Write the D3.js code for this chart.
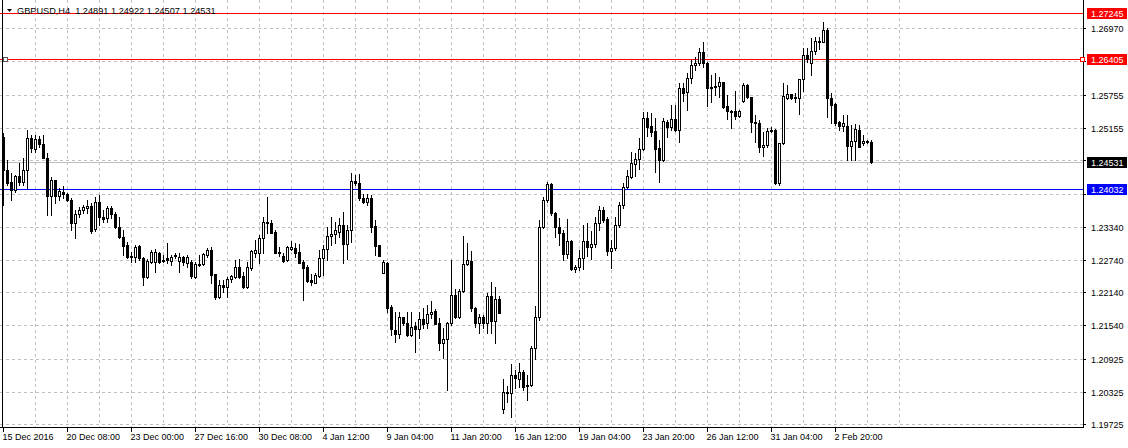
<!DOCTYPE html>
<html><head><meta charset="utf-8">
<script src="https://cdn.jsdelivr.net/npm/d3@7"></script>
<style>html,body{margin:0;padding:0;background:#fff;}svg{display:block;}</style>
</head><body>
<script>
const symbolTitle = "GBPUSD,H4  1.24891 1.24922 1.24507 1.24531";
const open = [
1.24981,1.24377,1.24157,1.24011,1.24267,1.24157,1.24377,1.24963,1.24761,1.24944,
1.24853,1.24597,1.23902,1.24194,1.23902,1.23975,1.23938,1.23828,1.23407,1.23572,
1.23645,1.23682,1.23718,1.23297,1.23792,1.23517,1.23499,1.23682,1.23572,1.23334,
1.23151,1.23004,1.22803,1.22785,1.22986,1.22766,1.22419,1.22693,1.22693,1.22858,
1.22730,1.22766,1.22711,1.22821,1.22711,1.22785,1.22675,1.22693,1.22419,1.22656,
1.22656,1.22821,1.22913,1.22474,1.22053,1.22272,1.22236,1.22382,1.22419,1.22601,
1.22437,1.22236,1.22583,1.22858,1.22858,1.23133,1.23425,1.23407,1.23242,1.22876,
1.22803,1.22730,1.22931,1.22950,1.22876,1.22693,1.22601,1.22364,1.22309,1.22437,
1.22766,1.22931,1.23169,1.23206,1.23242,1.23371,1.23023,1.23279,1.24176,1.24139,
1.23865,1.23792,1.23865,1.23352,1.23004,1.22492,1.22675,1.21870,1.21449,1.21376,
1.21687,1.21577,1.21357,1.21522,1.21467,1.21650,1.21577,1.21742,1.21797,1.21577,
1.21211,1.21284,1.21577,1.22090,1.21687,1.22163,1.22656,1.22711,1.21852,1.21577,
1.21687,1.21577,1.22071,1.21613,1.22016,1.20001,1.20314,1.20296,1.20626,1.20552,
1.20680,1.20443,1.20443,1.21120,1.21687,1.23334,1.23828,1.24121,1.23590,1.23334,
1.23224,1.22840,1.23078,1.22565,1.22601,1.22766,1.23078,1.22968,1.23023,1.23407,
1.23645,1.23480,1.22895,1.22950,1.23371,1.23737,1.24067,1.24249,1.24487,1.24578,
1.24761,1.25329,1.25182,1.25091,1.24780,1.24560,1.25255,1.25164,1.25310,1.25109,
1.25878,1.25804,1.26061,1.26298,1.26335,1.26536,1.26335,1.25878,1.25914,1.25914,
1.25987,1.25548,1.25457,1.25457,1.25365,1.25640,1.25933,1.25713,1.25255,1.25237,
1.24798,1.24835,1.25109,1.25109,1.24139,1.24871,1.25695,1.25768,1.25713,1.25695,
1.26042,1.26482,1.26335,1.26555,1.26738,1.26719,1.26939,1.25695,1.25585,1.25255,
1.25182,1.25182,1.24816,1.24908,1.25109,1.24871,1.24908,1.24891];
const high = [
1.25054,1.24560,1.24322,1.24286,1.24505,1.24597,1.25109,1.25018,1.25018,1.24999,
1.25018,1.24688,1.24249,1.24194,1.24048,1.24085,1.23956,1.23865,1.23645,1.23700,
1.23737,1.23828,1.23773,1.23883,1.23920,1.23645,1.23718,1.23718,1.23608,1.23517,
1.23279,1.23059,1.22876,1.23004,1.23004,1.22785,1.22748,1.22913,1.22931,1.22876,
1.22821,1.23041,1.22821,1.22858,1.22858,1.22803,1.22821,1.22730,1.22693,1.22821,
1.22858,1.22950,1.22968,1.22474,1.22364,1.22364,1.22419,1.22455,1.22730,1.22748,
1.22510,1.22693,1.22913,1.23096,1.23188,1.23517,1.23883,1.23462,1.23279,1.22968,
1.22858,1.22986,1.23078,1.23041,1.23023,1.22730,1.22638,1.22474,1.22492,1.22913,
1.23004,1.23334,1.23517,1.23425,1.23499,1.23608,1.23371,1.24322,1.24286,1.24304,
1.23938,1.23938,1.23920,1.23462,1.23004,1.22730,1.22693,1.21907,1.21778,1.21778,
1.21687,1.21778,1.21778,1.21595,1.21778,1.21852,1.21907,1.21980,1.21833,1.21668,
1.21485,1.21595,1.22730,1.22199,1.22199,1.23169,1.23041,1.22895,1.21870,1.21742,
1.21723,1.22126,1.22327,1.22236,1.22071,1.20552,1.20424,1.20826,1.20717,1.20845,
1.20717,1.20626,1.21156,1.21888,1.23462,1.23883,1.24157,1.24139,1.23608,1.23499,
1.23279,1.23480,1.23096,1.22638,1.22913,1.23371,1.23407,1.23261,1.23517,1.23718,
1.23700,1.23517,1.23096,1.23517,1.23792,1.24139,1.24377,1.24706,1.24688,1.24963,
1.25438,1.25438,1.25420,1.25329,1.24926,1.25329,1.25292,1.25566,1.25566,1.25969,
1.25969,1.26152,1.26390,1.26445,1.26610,1.26719,1.26353,1.26116,1.26152,1.26079,
1.25987,1.25750,1.25475,1.25823,1.25475,1.25969,1.25951,1.25713,1.25383,1.25292,
1.25072,1.25146,1.25164,1.25127,1.24871,1.25969,1.25933,1.25768,1.25786,1.26042,
1.26610,1.26610,1.26793,1.26811,1.26811,1.27085,1.26976,1.25786,1.25603,1.25274,
1.25383,1.25383,1.25201,1.25219,1.25201,1.25018,1.24926,1.24922];
const low = [
1.23737,1.24103,1.23828,1.23975,1.24103,1.24103,1.24048,1.24706,1.24706,1.24798,
1.24597,1.23553,1.23553,1.23773,1.23828,1.23865,1.23810,1.23279,1.23133,1.23517,
1.23590,1.23590,1.23224,1.23261,1.23371,1.23425,1.23425,1.23499,1.23316,1.23133,
1.22821,1.22766,1.22693,1.22693,1.22730,1.22272,1.22400,1.22675,1.22510,1.22675,
1.22693,1.22675,1.22638,1.22766,1.22510,1.22638,1.22601,1.22400,1.22400,1.22620,
1.22638,1.22785,1.22309,1.22016,1.22035,1.22144,1.22053,1.22327,1.22400,1.22400,
1.22217,1.22217,1.22547,1.22785,1.22675,1.22858,1.23224,1.23224,1.22858,1.22803,
1.22693,1.22711,1.22913,1.22785,1.22675,1.21998,1.22327,1.22272,1.22309,1.22419,
1.22455,1.22730,1.23004,1.23041,1.23151,1.22675,1.22748,1.23059,1.24103,1.23828,
1.23773,1.23737,1.23242,1.22821,1.22803,1.22492,1.21778,1.21357,1.21229,1.21302,
1.21540,1.21339,1.21339,1.21046,1.21302,1.21485,1.21485,1.21668,1.21558,1.21083,
1.20937,1.20351,1.21540,1.21668,1.21668,1.22144,1.22638,1.21797,1.21503,1.21394,
1.21485,1.21394,1.21394,1.21211,1.21760,1.19929,1.20132,1.19857,1.20387,1.20406,
1.20351,1.20168,1.20424,1.20918,1.21632,1.23316,1.23792,1.23553,1.23151,1.23004,
1.22730,1.22766,1.22547,1.22510,1.22547,1.22565,1.22803,1.22748,1.22968,1.23279,
1.23425,1.22821,1.22583,1.22913,1.23334,1.23682,1.24048,1.24231,1.24267,1.24395,
1.24743,1.24999,1.24999,1.24340,1.24157,1.24542,1.24981,1.25109,1.25091,1.24890,
1.25640,1.25475,1.25969,1.26207,1.26298,1.26262,1.25548,1.25621,1.25750,1.25713,
1.25512,1.25310,1.25146,1.25310,1.25347,1.25621,1.25695,1.25072,1.24890,1.24706,
1.24633,1.24798,1.25072,1.24121,1.24103,1.24853,1.25676,1.25676,1.25621,1.25402,
1.25823,1.26353,1.26116,1.26500,1.26591,1.26719,1.25347,1.25237,1.25201,1.25109,
1.25091,1.24560,1.24560,1.24560,1.24798,1.24835,1.24871,1.24507];
const close = [
1.24377,1.24139,1.24011,1.24267,1.24157,1.24377,1.24963,1.24780,1.24944,1.24853,
1.24597,1.23902,1.24194,1.23902,1.23993,1.23938,1.23828,1.23407,1.23572,1.23645,
1.23700,1.23718,1.23261,1.23792,1.23517,1.23480,1.23682,1.23572,1.23334,1.23151,
1.22986,1.22785,1.22785,1.22968,1.22766,1.22419,1.22711,1.22876,1.22876,1.22693,
1.22711,1.22730,1.22785,1.22803,1.22785,1.22693,1.22785,1.22437,1.22656,1.22638,
1.22840,1.22913,1.22455,1.22053,1.22272,1.22236,1.22382,1.22437,1.22601,1.22419,
1.22236,1.22601,1.22895,1.22913,1.23133,1.23425,1.23407,1.23224,1.22858,1.22858,
1.22711,1.22968,1.22968,1.22858,1.22675,1.22583,1.22345,1.22327,1.22455,1.22766,
1.22931,1.23169,1.23206,1.23279,1.23371,1.23023,1.23279,1.24176,1.24139,1.23865,
1.23792,1.23865,1.23334,1.22986,1.22803,1.22693,1.21852,1.21467,1.21376,1.21687,
1.21577,1.21357,1.21503,1.21467,1.21650,1.21558,1.21742,1.21778,1.21558,1.21211,
1.21284,1.21577,1.22090,1.21687,1.22163,1.22656,1.22730,1.21852,1.21577,1.21687,
1.21577,1.22071,1.21613,1.22016,1.21760,1.20314,1.20296,1.20626,1.20571,1.20680,
1.20406,1.20424,1.21120,1.21687,1.23334,1.23828,1.24121,1.23590,1.23334,1.23224,
1.22840,1.23078,1.22565,1.22601,1.22766,1.23078,1.22968,1.23023,1.23407,1.23645,
1.23462,1.22895,1.22950,1.23371,1.23737,1.24067,1.24267,1.24505,1.24578,1.24761,
1.25329,1.25164,1.25072,1.24761,1.24560,1.25274,1.25164,1.25310,1.25109,1.25878,
1.25786,1.26061,1.26298,1.26335,1.26536,1.26335,1.25878,1.25896,1.25896,1.25987,
1.25530,1.25457,1.25438,1.25365,1.25457,1.25933,1.25713,1.25255,1.25237,1.24798,
1.24835,1.25091,1.25091,1.24139,1.24871,1.25731,1.25768,1.25695,1.25695,1.26042,
1.26482,1.26408,1.26555,1.26738,1.26719,1.26939,1.25695,1.25566,1.25237,1.25182,
1.25237,1.24816,1.24908,1.25127,1.24798,1.24908,1.24890,1.24531];

const timeTickBars = [0,16,32,48,64,80,96,112,128,144,160,176,192,208];
const timeTickLabels = ["15 Dec 2016","20 Dec 08:00","23 Dec 00:00","27 Dec 16:00","30 Dec 08:00","4 Jan 12:00","9 Jan 04:00","11 Jan 20:00","16 Jan 12:00","19 Jan 04:00","23 Jan 20:00","26 Jan 12:00","31 Jan 04:00","2 Feb 20:00"];
const priceTicks = [1.26970,1.26365,1.25755,1.25155,1.24555,1.23945,1.23340,1.22740,1.22140,1.21540,1.20925,1.20325,1.19725];
const resistanceLevels = [1.27245, 1.26405];
const supportLevels = [1.24032];
const lastPrice = 1.24531;

const W = 1128, H = 448;
const plotL = 0, plotR = 1083, plotB = 427;
const N = open.length;
const FONT = "'Liberation Sans', Arial, sans-serif";

const svg = d3.select("body").append("svg").attr("width", W).attr("height", H)
  .attr("shape-rendering", "crispEdges");

const x = d3.scaleBand().domain(d3.range(N)).range([1, 1 + 4 * N]).padding(0);
const cx = i => Math.round(x(i) + x.bandwidth() / 2);
const y = d3.scaleLinear().domain([1.19725, 1.26970]).range([424.3, 28.3]);
const py = v => Math.round(y(v));

const levelValues = [...resistanceLevels, lastPrice, ...supportLevels];
const covered = d => levelValues.some(v => Math.abs(py(v) - py(d)) < 9);

// grid
const grid = svg.append("g").attr("stroke", "#c0c0c0").attr("stroke-dasharray", "3,3");
const vGrid = d3.range(8, N + 8, 8).filter(i => 3 + 4 * i < plotR);
grid.selectAll("line.v").data(vGrid).join("line")
  .attr("x1", i => 3 + 4 * i + 0.5).attr("x2", i => 3 + 4 * i + 0.5)
  .attr("y1", 0).attr("y2", plotB);
grid.selectAll("line.h").data(priceTicks).join("line")
  .attr("x1", plotL).attr("x2", plotR)
  .attr("y1", d => py(d) + 0.5).attr("y2", d => py(d) + 0.5);

// last price line
svg.append("line").attr("x1", plotL).attr("x2", plotR)
  .attr("y1", py(lastPrice) + 0.5).attr("y2", py(lastPrice) + 0.5)
  .attr("stroke", "#c0c0c0");

// horizontal level lines
svg.selectAll("line.res").data(resistanceLevels).join("line")
  .attr("x1", plotL).attr("x2", plotR)
  .attr("y1", d => py(d) + 0.5).attr("y2", d => py(d) + 0.5)
  .attr("stroke", "#ff0000");
svg.selectAll("line.sup").data(supportLevels).join("line")
  .attr("x1", plotL).attr("x2", plotR)
  .attr("y1", d => py(d) + 0.5).attr("y2", d => py(d) + 0.5)
  .attr("stroke", "#0000ff");

// candles
const bars = d3.range(N).map(i => ({i, o: open[i], h: high[i], l: low[i], c: close[i]}));
const cg = svg.append("g");
cg.selectAll("line.wick").data(bars).join("line")
  .attr("x1", d => cx(d.i) + 0.5).attr("x2", d => cx(d.i) + 0.5)
  .attr("y1", d => py(d.h)).attr("y2", d => py(d.l) + 1)
  .attr("stroke", "#000");
cg.selectAll("rect.body").data(bars).join("rect")
  .attr("x", d => d.c >= d.o ? cx(d.i) - 0.5 : cx(d.i) - 1)
  .attr("width", d => d.c >= d.o ? 2 : 3)
  .attr("y", d => d.c >= d.o ? py(d.c) + 0.5 : py(d.o))
  .attr("height", d => {
    const hgt = Math.abs(py(d.o) - py(d.c));
    return d.c >= d.o ? Math.max(hgt, 0) : Math.max(hgt + 1, 1);
  })
  .attr("fill", d => d.c >= d.o ? "#fff" : "#000")
  .attr("stroke", d => d.c >= d.o ? "#000" : "none");

// frame
svg.append("line").attr("x1", plotR + 0.5).attr("x2", plotR + 0.5).attr("y1", 0).attr("y2", plotB + 1).attr("stroke", "#000");
svg.append("line").attr("x1", 0).attr("x2", plotR + 1).attr("y1", plotB + 0.5).attr("y2", plotB + 0.5).attr("stroke", "#000");
svg.append("line").attr("x1", 2.5).attr("x2", 2.5).attr("y1", 0).attr("y2", plotB).attr("stroke", "#000");

// right price axis
const axisG = svg.append("g").attr("transform", `translate(${plotR},0)`);
const yAxis = d3.axisRight(y).tickValues(priceTicks).tickSize(3).tickPadding(5)
  .tickFormat(d => covered(d) ? "" : d3.format(".5f")(d));
axisG.call(yAxis);
axisG.select(".domain").remove();
axisG.selectAll(".tick").attr("transform", d => `translate(0,${py(d) + 0.5})`);
axisG.selectAll(".tick line").attr("stroke", "#000");
axisG.selectAll(".tick text").attr("font-family", FONT).attr("font-size", 9).attr("fill", "#000")
  .attr("dy", "0.34em").attr("x", 8);

// bottom time axis
const xAxisG = svg.append("g").attr("transform", `translate(0,${plotB})`);
const xAxis = d3.axisBottom(d3.scaleLinear().domain([0, N - 1]).range([3, 3 + 4 * (N - 1)]))
  .tickValues(timeTickBars).tickSize(5).tickFormat((d, i) => timeTickLabels[i]);
xAxisG.call(xAxis);
xAxisG.select(".domain").remove();
xAxisG.selectAll(".tick").attr("transform", d => `translate(${cx(d) + 0.5},0)`);
xAxisG.selectAll(".tick line").attr("stroke", "#000");
xAxisG.selectAll(".tick text").attr("font-family", FONT).attr("font-size", 9).attr("fill", "#000")
  .attr("text-anchor", "start").attr("x", -1).attr("y", 7).attr("dy", "0.71em");

// price label boxes
const boxes = [
  ...resistanceLevels.map(v => ({v, fill: "#ff0000"})),
  {v: lastPrice, fill: "#000000"},
  ...supportLevels.map(v => ({v, fill: "#0000ff"}))
];
const bg = svg.append("g");
bg.selectAll("rect").data(boxes).join("rect")
  .attr("x", plotR + 4).attr("y", d => py(d.v) - 5).attr("width", 40).attr("height", 11)
  .attr("fill", d => d.fill);
bg.selectAll("text").data(boxes).join("text")
  .attr("x", plotR + 8).attr("y", d => py(d.v) + 0.5).attr("dy", "0.34em")
  .attr("font-family", FONT).attr("font-size", 9).attr("fill", "#fff")
  .text(d => d3.format(".5f")(d.v));

// anchor squares on selected line
const sel = resistanceLevels[1];
svg.append("rect").attr("x", 3.5).attr("y", py(sel) - 1.5).attr("width", 4).attr("height", 4)
  .attr("fill", "#fff").attr("stroke", "#555");
svg.append("rect").attr("x", plotR - 2.5).attr("y", py(sel) - 1.5).attr("width", 4).attr("height", 4)
  .attr("fill", "#fff").attr("stroke", "#ff0000");

// title
svg.append("path").attr("d", "M7,9 L12,9 L9.5,12 Z").attr("fill", "#000").attr("shape-rendering", "auto");
svg.append("text").attr("x", 17).attr("y", 13.5).attr("font-family", FONT).attr("font-size", 9.2)
  .attr("fill", "#000").attr("xml:space", "preserve").style("white-space", "pre").text(symbolTitle);
</script>
</body></html>
